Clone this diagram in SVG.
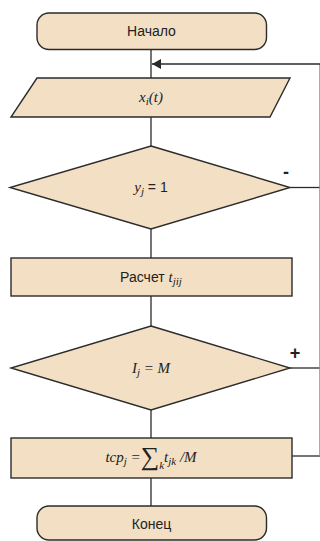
<svg xmlns="http://www.w3.org/2000/svg" width="320" height="541" viewBox="0 0 320 541">
<defs>
<style>
.n{fill:#f3dfc3;stroke:#2b2b2b;stroke-width:1.4}
.c{stroke:#2b2b2b;stroke-width:1.3;fill:none}
.s{font-family:"Liberation Sans",Arial,sans-serif;font-size:14px;fill:#222}
.m{font-family:"Liberation Serif","Times New Roman",serif;font-style:italic;font-size:15px;fill:#222}
.sub{font-size:11px}
.sg{font-family:"Liberation Sans",Arial,sans-serif;font-weight:bold;font-size:18px;fill:#222}
</style>
<marker id="ah" markerWidth="10" markerHeight="10" refX="9" refY="5" orient="auto" markerUnits="userSpaceOnUse">
<path d="M0,0 L9,5 L0,10 Z" fill="#2b2b2b"/>
</marker>
</defs>
<rect width="320" height="541" fill="#ffffff"/>
<g id="connectors">
<line class="c" x1="151" y1="50" x2="151" y2="78"/>
<line class="c" x1="151" y1="117" x2="151" y2="146"/>
<line class="c" x1="151" y1="229" x2="151" y2="258"/>
<line class="c" x1="151" y1="296" x2="151" y2="326"/>
<line class="c" x1="151" y1="410" x2="151" y2="438"/>
<line class="c" x1="151" y1="478" x2="151" y2="506"/>
<line class="c" x1="290" y1="187.5" x2="320" y2="187.5"/>
<line class="c" x1="290" y1="368" x2="320" y2="368"/>
<line class="c" x1="292" y1="456" x2="320" y2="456"/>
<line x1="320" y1="64" x2="320" y2="456" stroke="#888" stroke-width="1.4"/>
<line class="c" x1="320" y1="64" x2="152" y2="64" marker-end="url(#ah)"/>
</g>
<g id="start">
<rect class="n" x="37" y="13" width="229.5" height="36.5" rx="12"/>
<text class="s" x="151.5" y="36" text-anchor="middle">Начало</text>
</g>
<g id="input">
<polygon class="n" points="37,78 290,78 270,117 11,117"/>
<text class="m" x="151" y="102" text-anchor="middle">x<tspan class="sub" dy="3">i</tspan><tspan dy="-3">(t)</tspan></text>
</g>
<g id="cond1">
<polygon class="n" points="151,146 290,187.5 151,229 10,187.5"/>
<text x="151" y="192" text-anchor="middle"><tspan class="m">y</tspan><tspan class="m sub" dy="3">j</tspan><tspan class="s" dy="-3"> = 1</tspan></text>
<text class="sg" x="286" y="178" text-anchor="middle">-</text>
</g>
<g id="calc">
<rect class="n" x="11" y="258" width="281" height="38"/>
<text x="151" y="282" text-anchor="middle"><tspan class="s">Расчет </tspan><tspan class="m">t</tspan><tspan class="m sub" dy="3">jij</tspan></text>
</g>
<g id="cond2">
<polygon class="n" points="151,326 290,368 151,410 11,368"/>
<text x="151" y="373" text-anchor="middle"><tspan class="m">I</tspan><tspan class="m sub" dy="3">j</tspan><tspan class="m" dy="-3"> = M</tspan></text>
<text class="sg" x="295" y="359" text-anchor="middle">+</text>
</g>
<g id="avg">
<rect class="n" x="11" y="438" width="281" height="40"/>
<text x="151" y="462" text-anchor="middle"><tspan class="m">tcp</tspan><tspan class="m sub" dy="3">j</tspan><tspan class="m" dy="-3"> =</tspan><tspan font-family="'Liberation Serif',serif" font-size="26px" fill="#222" dy="3">∑</tspan><tspan class="m sub" dy="4">k</tspan><tspan class="m" dy="-7">t</tspan><tspan class="m sub" dy="3">jk</tspan><tspan class="m" dy="-3"> /M</tspan></text>
</g>
<g id="end">
<rect class="n" x="37" y="506" width="229.5" height="34" rx="12"/>
<text class="s" x="151.5" y="529" text-anchor="middle">Конец</text>
</g>
</svg>
